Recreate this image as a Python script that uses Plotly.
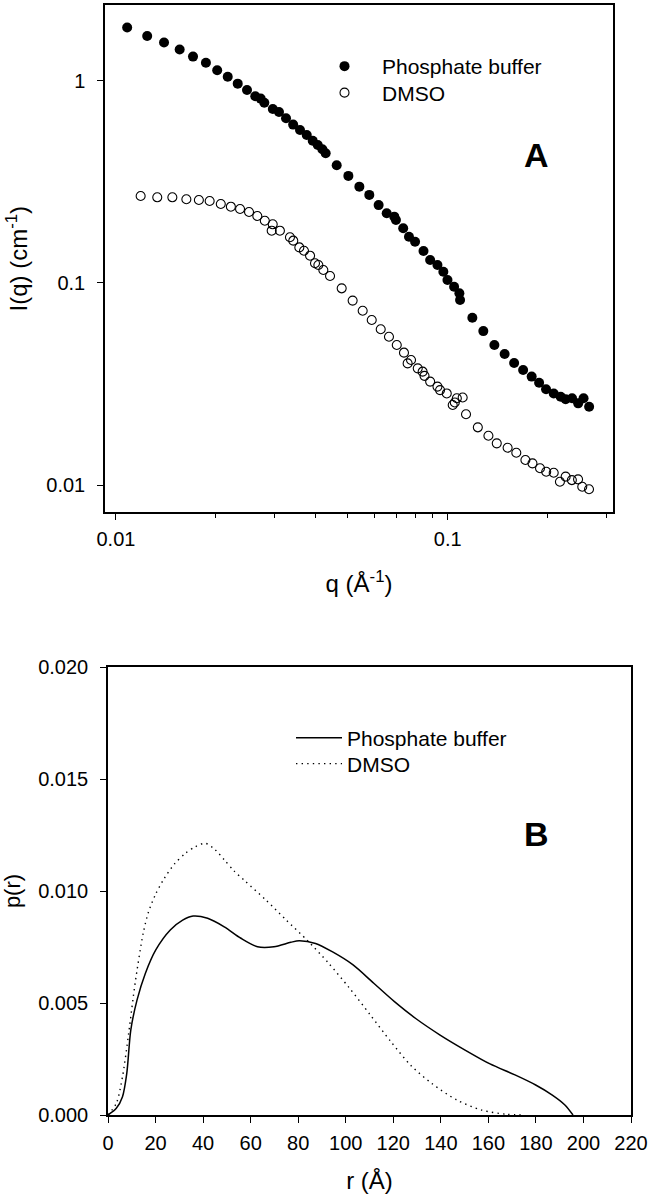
import plotly.graph_objects as go

# ---------------- Panel A data (SAXS intensity) ----------------
q_phosphate = [0.01081, 0.01242, 0.01396, 0.01556, 0.01707, 0.01867, 0.02019, 0.02172,
               0.02328, 0.02483, 0.0263, 0.0273, 0.0280, 0.0297, 0.0310, 0.03255, 0.0342,
               0.03587, 0.03758, 0.03918, 0.04057, 0.04188, 0.04286, 0.04627, 0.05017,
               0.05415, 0.05801, 0.0619, 0.06546, 0.0690, 0.0698, 0.0734, 0.0764, 0.0797,
               0.0845, 0.0885, 0.0931, 0.09698, 0.0998, 0.1045, 0.1084, 0.1089, 0.1186,
               0.1280, 0.1382, 0.1484, 0.1585, 0.1687, 0.1790, 0.1885, 0.1978, 0.2086,
               0.2189, 0.2266, 0.2369, 0.2472, 0.2566, 0.2667]
I_phosphate = [1.84, 1.67, 1.55, 1.43, 1.32, 1.23, 1.13, 1.05,
               0.97, 0.902, 0.84, 0.818, 0.78, 0.727, 0.702, 0.654, 0.608,
               0.572, 0.540, 0.506, 0.482, 0.459, 0.4385, 0.3825, 0.339,
               0.2998, 0.273, 0.243, 0.2213, 0.213, 0.205, 0.1866, 0.1695, 0.160,
               0.144, 0.130, 0.1228, 0.1137, 0.1035, 0.0959, 0.0889, 0.0824, 0.0673,
               0.0578, 0.0493, 0.0445, 0.0402, 0.0371, 0.0344, 0.0321, 0.0298, 0.0284,
               0.02735, 0.02656, 0.02686, 0.02537, 0.02686, 0.0244]

q_dmso = [0.01187, 0.01332, 0.01479, 0.0163, 0.01778, 0.01916, 0.0207, 0.0222,
          0.02366, 0.02518, 0.02667, 0.0281, 0.02968, 0.02947, 0.0312, 0.03345,
          0.03423, 0.0357, 0.03687, 0.03846, 0.0398, 0.04074, 0.04217, 0.04418,
          0.0479, 0.05168, 0.05541, 0.0590, 0.0628, 0.0665, 0.0702, 0.0738,
          0.0757, 0.0775, 0.0812, 0.0840, 0.0851, 0.0885, 0.0931, 0.0948, 0.0993,
          0.1035, 0.1050, 0.1065, 0.1109, 0.1135, 0.1232, 0.1326, 0.1405, 0.1515,
          0.1609, 0.1714, 0.1800, 0.1897, 0.1980, 0.2086, 0.2178, 0.2266, 0.2366,
          0.2470, 0.2543, 0.2665]
I_dmso = [0.2696, 0.2655, 0.2655, 0.2596, 0.2575, 0.2546, 0.246, 0.2386,
          0.2324, 0.2246, 0.2146, 0.2034, 0.1952, 0.1815, 0.1815, 0.1684,
          0.162, 0.150, 0.1445, 0.1365, 0.1252, 0.1228, 0.116, 0.1083,
          0.0941, 0.0818, 0.0729, 0.0656, 0.059, 0.0542, 0.0493, 0.0452,
          0.0400, 0.0416, 0.0378, 0.0364, 0.0347, 0.0325, 0.0307, 0.0295, 0.0284,
          0.0249, 0.0256, 0.0269, 0.0271, 0.0224, 0.0193, 0.01754, 0.01608, 0.0153,
          0.01445, 0.0133, 0.0128, 0.0121, 0.01164, 0.0115, 0.01038, 0.0110, 0.01058,
          0.01067, 0.00981, 0.00953]

# ---------------- Panel B data (pair distance distribution) ----------------
r_phosphate = [0, 3.5, 6.1, 7.9, 9.6, 12.2, 15.7, 20.1, 26.2, 31.4, 35.8, 41.9, 48.9,
               55.9, 62.9, 69.8, 76.9, 80.4, 87.3, 94.3, 103.1, 111.8, 120.5, 129.3,
               139.7, 150.2, 160.7, 171.2, 179.9, 186.9, 192.2, 195.6]
p_phosphate = [0, 0.0003, 0.00082, 0.00186, 0.0038, 0.00513, 0.00632, 0.00737, 0.00826,
               0.0087, 0.00888, 0.00878, 0.0084, 0.00789, 0.00751, 0.00751, 0.00771,
               0.00778, 0.00766, 0.00729, 0.0067, 0.00588, 0.00506, 0.00432, 0.00357,
               0.0029, 0.00228, 0.00179, 0.00134, 0.00089, 0.00045, 0.0]

r_dmso = [0, 3.5, 6.1, 8.7, 11.4, 14.8, 17.0, 20.0, 23.6, 27.9, 32.5, 36.8, 41.0, 45.0,
          49.0, 53.0, 57.6, 66.4, 75.0, 83.8, 92.6, 101.3, 110.1, 118.8, 127.5, 136.3,
          146.7, 157.2, 167.7, 175.0]
p_dmso = [0, 0.00052, 0.00171, 0.00365, 0.00588, 0.00811, 0.00905, 0.00985, 0.01055,
          0.0112, 0.01168, 0.01198, 0.01213, 0.01185, 0.01138, 0.0109, 0.01045, 0.0096,
          0.0087, 0.0078, 0.0068, 0.0057, 0.0045, 0.0033, 0.0022, 0.0014, 0.00067,
          0.00022, 0.00003, 0.0]

# tick labels
qa_ticks = [0.01, 0.1]
qa_ticktext = ["0.01", "0.1"]
qa_minor = [0.02, 0.03, 0.04, 0.05, 0.06, 0.07, 0.08, 0.09, 0.2, 0.3]
Ia_ticks = [0.01, 0.1, 1]
Ia_ticktext = ["0.01", "0.1", "1"]
rb_ticks = list(range(0, 221, 20))
pb_ticks = [0.0, 0.005, 0.010, 0.015, 0.020]
pb_ticktext = ["0.000", "0.005", "0.010", "0.015", "0.020"]

FONT = "Arial, 'Liberation Sans', sans-serif"
W, H = 651, 1199


def px_x(px):
    return px / W


def px_y(py):
    return 1 - py / H


fig = go.Figure()

fig.add_trace(go.Scatter(
    x=q_phosphate, y=I_phosphate, mode="markers", name="Phosphate buffer",
    marker=dict(symbol="circle", size=10, color="black"), showlegend=True,
    xaxis="x", yaxis="y", legend="legend"))
fig.add_trace(go.Scatter(
    x=q_dmso, y=I_dmso, mode="markers", name="DMSO", showlegend=True,
    marker=dict(symbol="circle-open", size=9, color="black", line=dict(width=1.1, color="black")),
    xaxis="x", yaxis="y", legend="legend3"))

fig.add_trace(go.Scatter(
    x=r_phosphate, y=p_phosphate, mode="lines", name="Phosphate buffer", showlegend=True,
    line=dict(color="black", width=1.5, shape="spline", smoothing=0.8),
    xaxis="x2", yaxis="y2", legend="legend2"))
fig.add_trace(go.Scatter(
    x=r_dmso, y=p_dmso, mode="lines", name="DMSO", showlegend=True,
    line=dict(color="black", width=1.4, dash="1.4px,4.2px", shape="spline", smoothing=0.8),
    xaxis="x2", yaxis="y2", legend="legend4"))

axis_common = dict(showline=True, linecolor="black", linewidth=1.5, mirror=True,
                   showgrid=False, zeroline=False, ticks="outside", tickcolor="black",
                   tickwidth=1.2, ticklen=6, automargin=False,
                   tickfont=dict(family=FONT, size=20, color="black"))

legend_common = dict(xanchor="left", yanchor="middle", bgcolor="rgba(0,0,0,0)",
                     borderwidth=0, tracegroupgap=0, visible=True,
                     font=dict(family=FONT, size=21, color="black"))

fig.update_layout(
    template=None,
    showlegend=True,
    width=W, height=H,
    margin=dict(l=0, r=0, t=0, b=0, autoexpand=False),
    paper_bgcolor="white", plot_bgcolor="white",
    font=dict(family=FONT, color="black"),
    xaxis=dict(axis_common, type="log", range=[-2.033, -0.502],
               domain=[px_x(105), px_x(613)], anchor="y",
               tickvals=qa_ticks, ticktext=qa_ticktext, ticklabelstandoff=2,
               minor=dict(tickvals=qa_minor, ticks="outside", ticklen=3.5,
                          tickcolor="black", tickwidth=1.2),
               title=dict(text="q (Å<sup>-1</sup>)", font=dict(family=FONT, size=24),
                          standoff=26)),
    yaxis=dict(axis_common, type="log", range=[-2.135, 0.376],
               domain=[px_y(512.3), px_y(5)], anchor="x",
               tickvals=Ia_ticks, ticktext=Ia_ticktext, ticklabelstandoff=8,
               title=dict(text="I(q) (cm<sup>-1</sup>)", font=dict(family=FONT, size=24),
                          standoff=12)),
    xaxis2=dict(axis_common, range=[0, 220],
                domain=[px_x(108), px_x(631)], anchor="y2",
                tickvals=rb_ticks, ticklabelstandoff=3,
                title=dict(text="r (Å)", font=dict(family=FONT, size=24), standoff=19)),
    yaxis2=dict(axis_common, range=[0, 0.02],
                domain=[px_y(1115), px_y(667)], anchor="x2",
                tickvals=pb_ticks, ticktext=pb_ticktext, ticklabelstandoff=8,
                title=dict(text="p(r)", font=dict(family=FONT, size=22), standoff=12)),
    legend=dict(legend_common, x=px_x(307), y=px_y(66.5), itemwidth=65),
    legend3=dict(legend_common, x=px_x(307), y=px_y(93), itemwidth=65),
    legend2=dict(legend_common, x=px_x(291), y=px_y(738), itemwidth=46),
    legend4=dict(legend_common, x=px_x(291), y=px_y(764), itemwidth=46),
    annotations=[
        dict(text="<b>A</b>", x=px_x(536.5), y=px_y(155.5), xref="paper", yref="paper",
             showarrow=False, font=dict(family=FONT, size=34, color="black"),
             xanchor="center", yanchor="middle"),
        dict(text="<b>B</b>", x=px_x(536), y=px_y(833.5), xref="paper", yref="paper",
             showarrow=False, font=dict(family=FONT, size=34, color="black"),
             xanchor="center", yanchor="middle"),
    ],
)

fig.write_html("out.html", config={"displayModeBar": False},
               post_script="document.body.style.margin='0px';document.body.style.overflow='hidden';")
